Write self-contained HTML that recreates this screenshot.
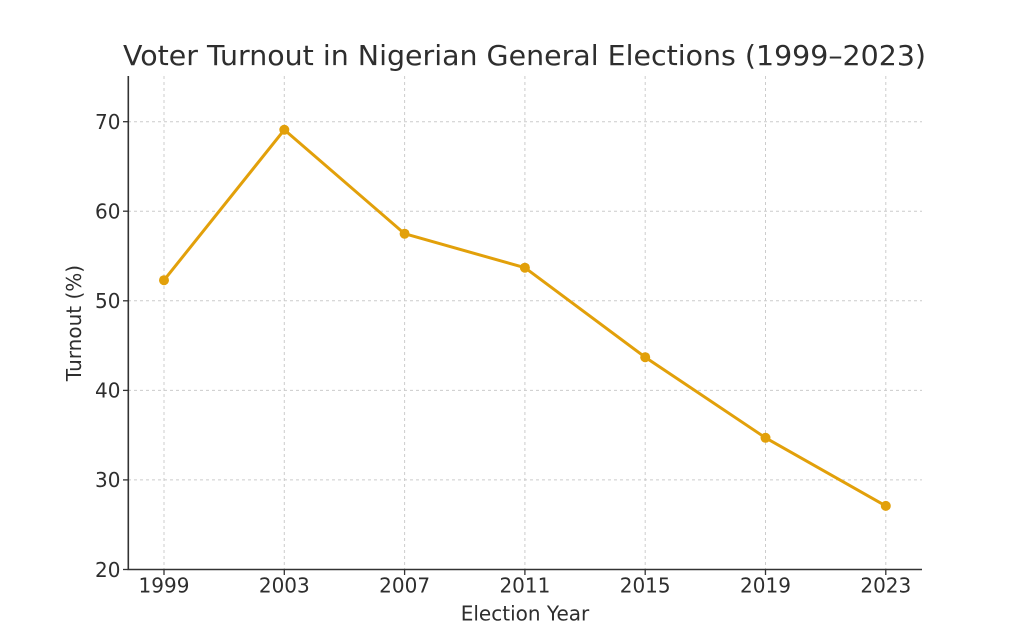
<!DOCTYPE html>
<html>
<head>
<meta charset="utf-8">
<style>
  html, body { margin: 0; padding: 0; background: #ffffff; }
  svg { display: block; }
  text { font-family: "DejaVu Sans", "Liberation Sans", sans-serif; fill: #2e2e2e; }
</style>
</head>
<body>
<svg width="1024" height="640" viewBox="0 0 1024 640" xmlns="http://www.w3.org/2000/svg">
  <rect width="1024" height="640" fill="#ffffff"/>

  <!-- grid -->
  <g stroke="#cccccc" stroke-width="1" stroke-dasharray="3,3" fill="none">
    <line x1="128" y1="479.9" x2="922" y2="479.9"/>
    <line x1="128" y1="390.4" x2="922" y2="390.4"/>
    <line x1="128" y1="300.8" x2="922" y2="300.8"/>
    <line x1="128" y1="211.2" x2="922" y2="211.2"/>
    <line x1="128" y1="121.7" x2="922" y2="121.7"/>
    <line x1="164" y1="76" x2="164" y2="569.5"/>
    <line x1="284.3" y1="76" x2="284.3" y2="569.5"/>
    <line x1="404.6" y1="76" x2="404.6" y2="569.5"/>
    <line x1="524.9" y1="76" x2="524.9" y2="569.5"/>
    <line x1="645.2" y1="76" x2="645.2" y2="569.5"/>
    <line x1="765.5" y1="76" x2="765.5" y2="569.5"/>
    <line x1="885.8" y1="76" x2="885.8" y2="569.5"/>
  </g>

  <!-- spines -->
  <g stroke="#333333" stroke-width="1.6" fill="none">
    <line x1="128.3" y1="76" x2="128.3" y2="570"/>
    <line x1="127.5" y1="569.5" x2="922" y2="569.5"/>
  </g>

  <!-- ticks -->
  <g stroke="#333333" stroke-width="1.3">
    <line x1="123" y1="569.5" x2="128" y2="569.5"/>
    <line x1="123" y1="479.9" x2="128" y2="479.9"/>
    <line x1="123" y1="390.4" x2="128" y2="390.4"/>
    <line x1="123" y1="300.8" x2="128" y2="300.8"/>
    <line x1="123" y1="211.2" x2="128" y2="211.2"/>
    <line x1="123" y1="121.7" x2="128" y2="121.7"/>
    <line x1="164" y1="569.5" x2="164" y2="575"/>
    <line x1="284.3" y1="569.5" x2="284.3" y2="575"/>
    <line x1="404.6" y1="569.5" x2="404.6" y2="575"/>
    <line x1="524.9" y1="569.5" x2="524.9" y2="575"/>
    <line x1="645.2" y1="569.5" x2="645.2" y2="575"/>
    <line x1="765.5" y1="569.5" x2="765.5" y2="575"/>
    <line x1="885.8" y1="569.5" x2="885.8" y2="575"/>
  </g>

  <!-- y tick labels -->
  <g font-size="20" text-anchor="end">
    <text x="120.5" y="576.8">20</text>
    <text x="120.5" y="487.2">30</text>
    <text x="120.5" y="397.7">40</text>
    <text x="120.5" y="308.1">50</text>
    <text x="120.5" y="218.5">60</text>
    <text x="120.5" y="129">70</text>
  </g>

  <!-- x tick labels -->
  <g font-size="20" text-anchor="middle">
    <text x="164" y="592.7">1999</text>
    <text x="284.3" y="592.7">2003</text>
    <text x="404.6" y="592.7">2007</text>
    <text x="524.9" y="592.7">2011</text>
    <text x="645.2" y="592.7">2015</text>
    <text x="765.5" y="592.7">2019</text>
    <text x="885.8" y="592.7">2023</text>
  </g>

  <!-- axis labels -->
  <text x="525" y="620.5" font-size="20" text-anchor="middle">Election Year</text>
  <text transform="translate(81,323) rotate(-90)" font-size="20" text-anchor="middle">Turnout (%)</text>

  <!-- title -->
  <text x="524.5" y="65" font-size="28" text-anchor="middle" textLength="803" lengthAdjust="spacingAndGlyphs">Voter Turnout in Nigerian General Elections (1999–2023)</text>

  <!-- series -->
  <polyline fill="none" stroke="#E2A00A" stroke-width="3" stroke-linejoin="round" stroke-linecap="round"
    points="164,280.2 284.3,129.8 404.6,233.7 524.9,267.7 645.2,357.2 765.5,437.8 885.8,505.9"/>
  <g fill="#E2A00A">
    <circle cx="164" cy="280.2" r="5"/>
    <circle cx="284.3" cy="129.8" r="5"/>
    <circle cx="404.6" cy="233.7" r="5"/>
    <circle cx="524.9" cy="267.7" r="5"/>
    <circle cx="645.2" cy="357.2" r="5"/>
    <circle cx="765.5" cy="437.8" r="5"/>
    <circle cx="885.8" cy="505.9" r="5"/>
  </g>
</svg>
</body>
</html>
